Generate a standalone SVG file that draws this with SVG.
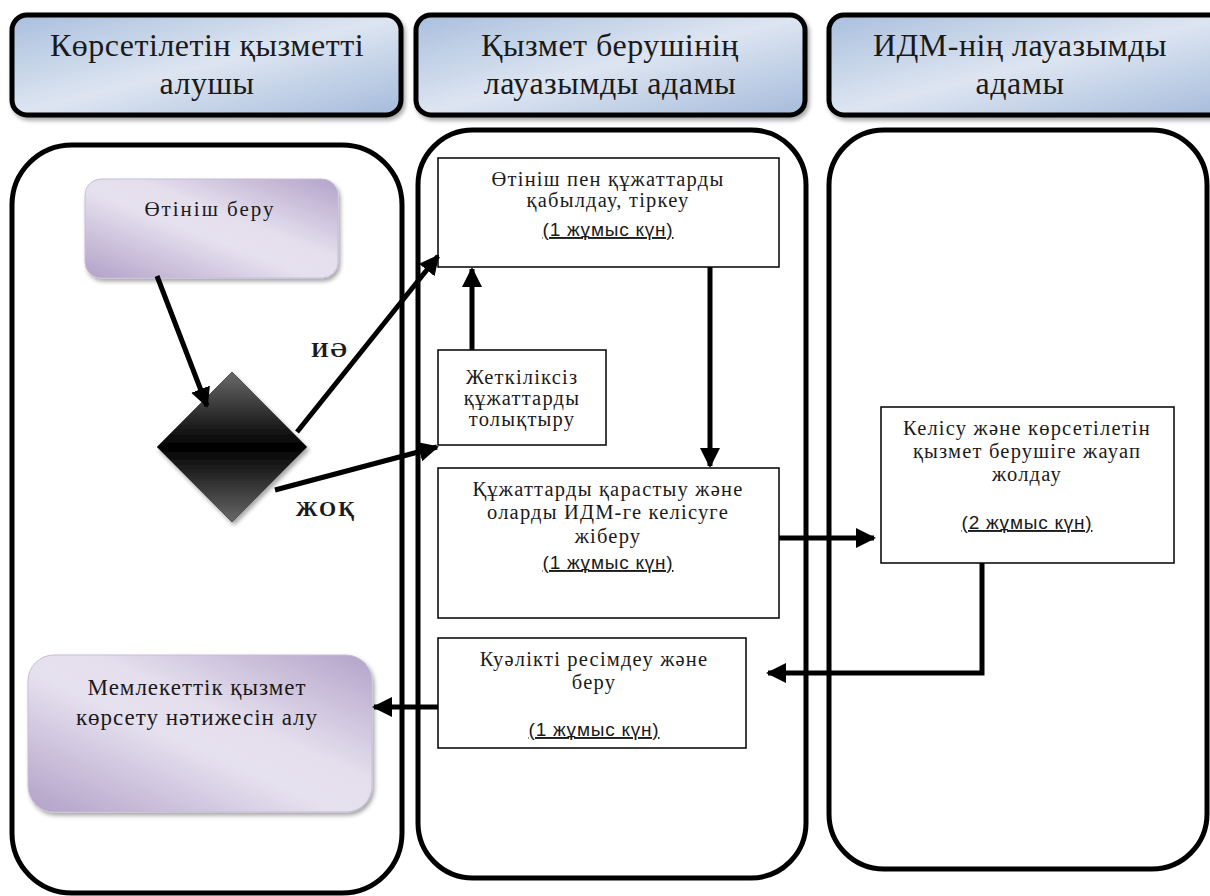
<svg xmlns="http://www.w3.org/2000/svg" width="1210" height="896" viewBox="0 0 1210 896">
<defs>
  <linearGradient id="gBlue" x1="0" y1="0" x2="1" y2="1">
    <stop offset="0" stop-color="#a9bfdd"/>
    <stop offset="0.5" stop-color="#dde5f1"/>
    <stop offset="1" stop-color="#a5bbdb"/>
  </linearGradient>
  <linearGradient id="gPurple" x1="0" y1="1" x2="1" y2="0">
    <stop offset="0" stop-color="#b2a1c8"/>
    <stop offset="0.45" stop-color="#e6e1ef"/>
    <stop offset="0.6" stop-color="#e4deed"/>
    <stop offset="1" stop-color="#b3a3c9"/>
  </linearGradient>
  <linearGradient id="gDiamond" x1="0" y1="0" x2="0" y2="1">
    <stop offset="0" stop-color="#6a6a6a"/>
    <stop offset="0.5" stop-color="#000"/>
    <stop offset="1" stop-color="#686868"/>
  </linearGradient>
  <filter id="shadow" x="-10%" y="-10%" width="125%" height="130%">
    <feDropShadow dx="2" dy="3" stdDeviation="2" flood-color="#000" flood-opacity="0.35"/>
  </filter>
  <marker id="ah" viewBox="0 0 10 10" refX="9" refY="5" markerWidth="4" markerHeight="4" orient="auto" markerUnits="strokeWidth">
    <path d="M0,0 L10,5 L0,10 z" fill="#000"/>
  </marker>
  <style>
    .hdr{fill:url(#gBlue);stroke:#000;stroke-width:5;filter:url(#shadow)}
    .lane{fill:#fff;stroke:#000;stroke-width:5}
    .pur{fill:url(#gPurple);stroke:#c8bdd8;stroke-width:1;filter:url(#shadow)}
    .box{fill:#fff;stroke:#000;stroke-width:1.5}
    text{font-family:"Liberation Serif","Times New Roman",serif;fill:#1a1a1a;text-anchor:middle}
    .ht{font-size:32px;letter-spacing:0.5px}
    .t{font-size:20.5px;letter-spacing:1.2px}
    .ta{font-size:21px;letter-spacing:2px}
    .tp{font-size:23px;letter-spacing:1px}
    .d{font-family:"Liberation Sans",Arial,sans-serif;font-size:19px;letter-spacing:0.8px;text-decoration:underline}
    .lbl{font-size:22px;font-weight:bold;letter-spacing:2px}
    .c{fill:none;stroke:#000;stroke-width:5}
  </style>
</defs>
<rect width="1210" height="896" fill="#fff"/>

<g id="lane1"><rect class="lane" x="12" y="145" width="390" height="748" rx="60" ry="60"/></g>
<g id="lane2"><rect class="lane" x="418" y="130" width="388" height="748" rx="55" ry="55"/></g>
<g id="lane3"><rect class="lane" x="829" y="130" width="378" height="739" rx="55" ry="55"/></g>

<g id="header1">
  <rect class="hdr" x="12" y="15" width="389" height="100" rx="15" ry="15"/>
  <text class="ht" x="207" y="56">Көрсетілетін қызметті</text>
  <text class="ht" x="207" y="94">алушы</text>
</g>
<g id="header2">
  <rect class="hdr" x="416" y="15" width="389" height="100" rx="15" ry="15"/>
  <text class="ht" x="610" y="56">Қызмет берушінің</text>
  <text class="ht" x="610" y="94">лауазымды адамы</text>
</g>
<g id="header3">
  <rect class="hdr" x="829" y="15" width="400" height="100" rx="15" ry="15"/>
  <text class="ht" x="1020" y="56">ИДМ-нің лауазымды</text>
  <text class="ht" x="1020" y="94">адамы</text>
</g>

<g id="apply">
  <rect class="pur" x="85" y="179" width="253" height="99" rx="16" ry="16"/>
  <text class="ta" x="210" y="216">Өтініш беру</text>
</g>

<g id="decision">
  <polygon points="232,372 307,447 232,522 157,447" fill="url(#gDiamond)" stroke="#555" stroke-width="1" filter="url(#shadow)"/>
</g>

<g id="receive">
  <rect class="box" x="438" y="158" width="341" height="109"/>
  <text class="t" x="608" y="186">Өтініш пен құжаттарды</text>
  <text class="t" x="608" y="207">қабылдау, тіркеу</text>
  <text class="d" x="608" y="236"> (1 жұмыс күн)</text>
</g>

<g id="supplement">
  <rect class="box" x="438" y="350" width="168" height="95"/>
  <text class="t" x="522" y="384">Жеткіліксіз</text>
  <text class="t" x="522" y="405">құжаттарды</text>
  <text class="t" x="522" y="426">толықтыру</text>
</g>

<g id="review">
  <rect class="box" x="438" y="468" width="341" height="150"/>
  <text class="t" x="608" y="496">Құжаттарды қарастыу  және</text>
  <text class="t" x="608" y="519">оларды ИДМ-ге келісуге</text>
  <text class="t" x="608" y="543">жіберу</text>
  <text class="d" x="608" y="569"> (1 жұмыс күн)</text>
</g>

<g id="approve">
  <rect class="box" x="881" y="407" width="293" height="156"/>
  <text class="t" x="1027" y="435">Келісу және көрсетілетін</text>
  <text class="t" x="1027" y="458">қызмет берушіге жауап</text>
  <text class="t" x="1027" y="481">жолдау</text>
  <text class="d" x="1027" y="529"> (2 жұмыс күн)</text>
</g>

<g id="issue">
  <rect class="box" x="438" y="638" width="308" height="110"/>
  <text class="t" x="594" y="666">Куәлікті ресімдеу  және</text>
  <text class="t" x="594" y="689">беру</text>
  <text class="d" x="594" y="736"> (1 жұмыс күн)</text>
</g>

<g id="result">
  <rect class="pur" x="28" y="655" width="344" height="157" rx="26" ry="26"/>
  <text class="tp" x="197" y="695">Мемлекеттік қызмет</text>
  <text class="tp" x="197" y="725">көрсету нәтижесін алу</text>
</g>

<g id="connectors">
  <line class="c" x1="157" y1="276" x2="207" y2="406" marker-end="url(#ah)"/>
  <line class="c" x1="297" y1="432" x2="438" y2="256" marker-end="url(#ah)"/>
  <line class="c" x1="275" y1="490" x2="437" y2="447" marker-end="url(#ah)"/>
  <line class="c" x1="472" y1="350" x2="472" y2="269" marker-end="url(#ah)"/>
  <line class="c" x1="710" y1="267" x2="710" y2="466" stroke-width="4.5" marker-end="url(#ah)"/>
  <line class="c" x1="779" y1="538" x2="874" y2="538" marker-end="url(#ah)"/>
  <polyline class="c" points="982,563 982,673 768,673" marker-end="url(#ah)"/>
  <line class="c" x1="438" y1="707" x2="374" y2="707" marker-end="url(#ah)"/>
  <text class="lbl" x="330" y="357">ИӘ</text>
  <text class="lbl" x="326" y="516">ЖОҚ</text>
</g>
</svg>
